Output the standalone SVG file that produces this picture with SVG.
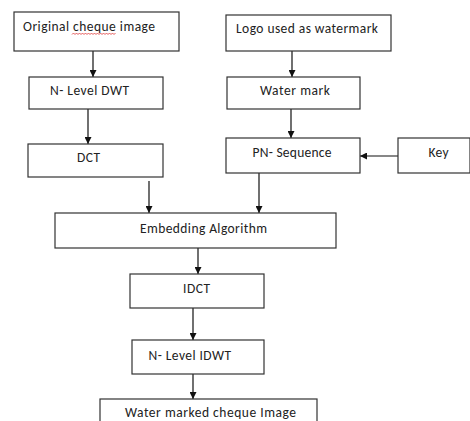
<svg xmlns="http://www.w3.org/2000/svg" width="470" height="421" viewBox="0 0 470 421">
  <defs>
    <marker id="arrow" viewBox="0 0 10 10" refX="10" refY="5" markerWidth="7" markerHeight="7" markerUnits="userSpaceOnUse" orient="auto">
      <path d="M0,0 L10,5 L0,10 Z" fill="#111"/>
    </marker>
    <style>
      .box { fill: #fff; stroke: #333; stroke-width: 1.2; }
      .lbl { font-family: Carlito, Lato, "Liberation Sans", sans-serif; font-size: 13.5px; fill: #222; }
      .mid { text-anchor: middle; }
      .edge { stroke: #111; stroke-width: 1.2; fill: none; marker-end: url(#arrow); }
    </style>
  </defs>
  <rect width="470" height="421" fill="#fff"/>

  <g id="connectors">
    <line class="edge" x1="93" y1="51" x2="93" y2="77"/>
    <line class="edge" x1="88" y1="109" x2="88" y2="144"/>
    <line class="edge" x1="292" y1="51" x2="292" y2="77"/>
    <line class="edge" x1="291" y1="109" x2="291" y2="138"/>
    <line class="edge" x1="398" y1="156" x2="360" y2="156"/>
    <line class="edge" x1="149" y1="181" x2="149" y2="213"/>
    <line class="edge" x1="259" y1="173" x2="259" y2="213"/>
    <line class="edge" x1="198" y1="248" x2="198" y2="274"/>
    <line class="edge" x1="193" y1="308" x2="193" y2="340"/>
    <line class="edge" x1="193" y1="374" x2="193" y2="399"/>
  </g>

  <g id="original">
    <rect class="box" x="14" y="12" width="165" height="39"/>
    <text class="lbl" x="23" y="31" textLength="132">Original cheque image</text>
    <path d="M72,34.5 l1.5,-1.5 l1.5,1.5 l1.5,-1.5 l1.5,1.5 l1.5,-1.5 l1.5,1.5 l1.5,-1.5 l1.5,1.5 l1.5,-1.5 l1.5,1.5 l1.5,-1.5 l1.5,1.5 l1.5,-1.5 l1.5,1.5 l1.5,-1.5 l1.5,1.5 l1.5,-1.5 l1.5,1.5 l1.5,-1.5 l1.5,1.5 l1.5,-1.5 l1.5,1.5 l1.5,-1.5 l1.5,1.5 l1.5,-1.5 l1.5,1.5 l1.5,-1.5 l1.5,1.5 l1.5,-1.5" fill="none" stroke="#d33" stroke-width="0.8"/>
  </g>

  <g id="dwt">
    <rect class="box" x="29" y="77" width="134" height="32"/>
    <text class="lbl" x="50" y="94.5" textLength="79">N- Level DWT</text>
  </g>

  <g id="dct">
    <rect class="box" x="28" y="144" width="135" height="33"/>
    <text class="lbl mid" x="88.5" y="161.5" textLength="23">DCT</text>
  </g>

  <g id="logo">
    <rect class="box" x="226" y="15" width="165" height="36"/>
    <text class="lbl" x="236" y="32.5" textLength="142">Logo used as watermark</text>
  </g>

  <g id="watermark">
    <rect class="box" x="227" y="77" width="133" height="32"/>
    <text class="lbl" x="260" y="95" textLength="70">Water mark</text>
  </g>

  <g id="pn">
    <rect class="box" x="226" y="138" width="134" height="35"/>
    <text class="lbl" x="252.5" y="157" textLength="79">PN- Sequence</text>
  </g>

  <g id="key">
    <rect class="box" x="398" y="138" width="72" height="35"/>
    <text class="lbl" x="428.5" y="157" textLength="20">Key</text>
  </g>

  <g id="embedding">
    <rect class="box" x="55" y="213" width="281" height="35"/>
    <text class="lbl" x="140" y="232.5" textLength="127">Embedding Algorithm</text>
  </g>

  <g id="idct">
    <rect class="box" x="130" y="274" width="134" height="34"/>
    <text class="lbl" x="183" y="293" textLength="27">IDCT</text>
  </g>

  <g id="idwt">
    <rect class="box" x="132" y="340" width="132" height="34"/>
    <text class="lbl" x="148.5" y="359.5" textLength="82.5">N- Level IDWT</text>
  </g>

  <g id="output">
    <rect class="box" x="100" y="399" width="217" height="30"/>
    <text class="lbl" x="125" y="417" textLength="171">Water marked cheque Image</text>
  </g>
</svg>
